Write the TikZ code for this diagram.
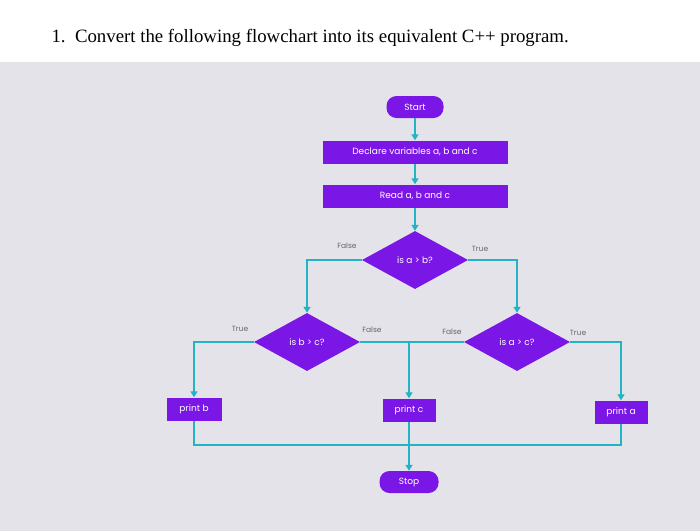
\documentclass[tikz,border=0pt]{standalone}
\usepackage{fontspec}
\setmainfont{Liberation Serif}
\newfontfamily\flowfont{Poppins}
\usetikzlibrary{shapes.geometric,arrows.meta}
\definecolor{flowpurple}{HTML}{7A16E6}
\definecolor{flowteal}{HTML}{22B3C4}
\definecolor{screen}{HTML}{E4E3EA}
\tikzset{
  base/.style={fill=flowpurple, text=white, font=\flowfont\fontsize{9}{10}\selectfont, inner sep=0pt},
  terminal/.style={base, rounded corners=10pt, minimum width=57pt, minimum height=22pt},
  process/.style={base, minimum height=23pt},
  decision/.style={base, diamond, minimum width=106pt, minimum height=58pt, aspect=1.8},
  flow/.style={draw=flowteal, line width=1.5pt, -{Triangle[length=6pt,width=7pt]}},
  link/.style={draw=flowteal, line width=1.5pt},
  lbl/.style={text=gray!80!black, font=\flowfont\fontsize{7.5}{8}\selectfont}
}
\begin{document}
\begin{tikzpicture}[x=1pt,y=-1pt]
  \useasboundingbox (0,0) rectangle (700,531);
  \fill[screen] (0,62) rectangle (700,531);
  \fill[white] (0,0) rectangle (700,62);
  \node[anchor=west, font=\fontsize{18.8}{21}\selectfont] (title) at (48,38)
    {1.\ \ Convert the following flowchart into its equivalent C++ program.};

  \node[terminal] (start) at (415,107) {Start};
  \node[process, minimum width=185pt] (declare) at (415,152) {Declare variables a, b and c};
  \node[process, minimum width=185pt] (read) at (415,196) {Read a, b and c};
  \node[decision] (ab) at (415,260) {is a > b?};
  \node[decision] (bc) at (307,342) {is b > c?};
  \node[decision] (ac) at (517,342) {is a > c?};
  \node[process, minimum width=55pt] (printb) at (194,409) {print b};
  \node[process, minimum width=53pt] (printc) at (409,410) {print c};
  \node[process, minimum width=53pt] (printa) at (621,412) {print a};
  \node[terminal, minimum width=59pt] (stop) at (409,482) {Stop};

  \draw[flow] (start) -- (declare);
  \draw[flow] (declare) -- (read);
  \draw[flow] (read) -- (ab);
  \draw[flow] (ab.west) -| (bc.north);
  \draw[flow] (ab.east) -| (ac.north);
  \draw[flow] (bc.west) -| (printb.north);
  \draw[link] (bc.east) -- (ac.west);
  \coordinate (split) at (printc.north |- bc.east);
  \draw[flow] (split) -- (printc.north);
  \draw[flow] (ac.east) -| (printa.north);
  \coordinate (join) at (printc.south |- 0,445);
  \draw[link] (printb.south) |- (join) -| (printa.south);
  \draw[flow] (printc.south) -- (stop.north);

  \node[lbl] (f1) at (347,246) {False};
  \node[lbl] (t1) at (480,249) {True};
  \node[lbl] (t2) at (240,329) {True};
  \node[lbl] (f2) at (372,330) {False};
  \node[lbl] (f3) at (452,332) {False};
  \node[lbl] (t3) at (578,333) {True};
\end{tikzpicture}
\end{document}
